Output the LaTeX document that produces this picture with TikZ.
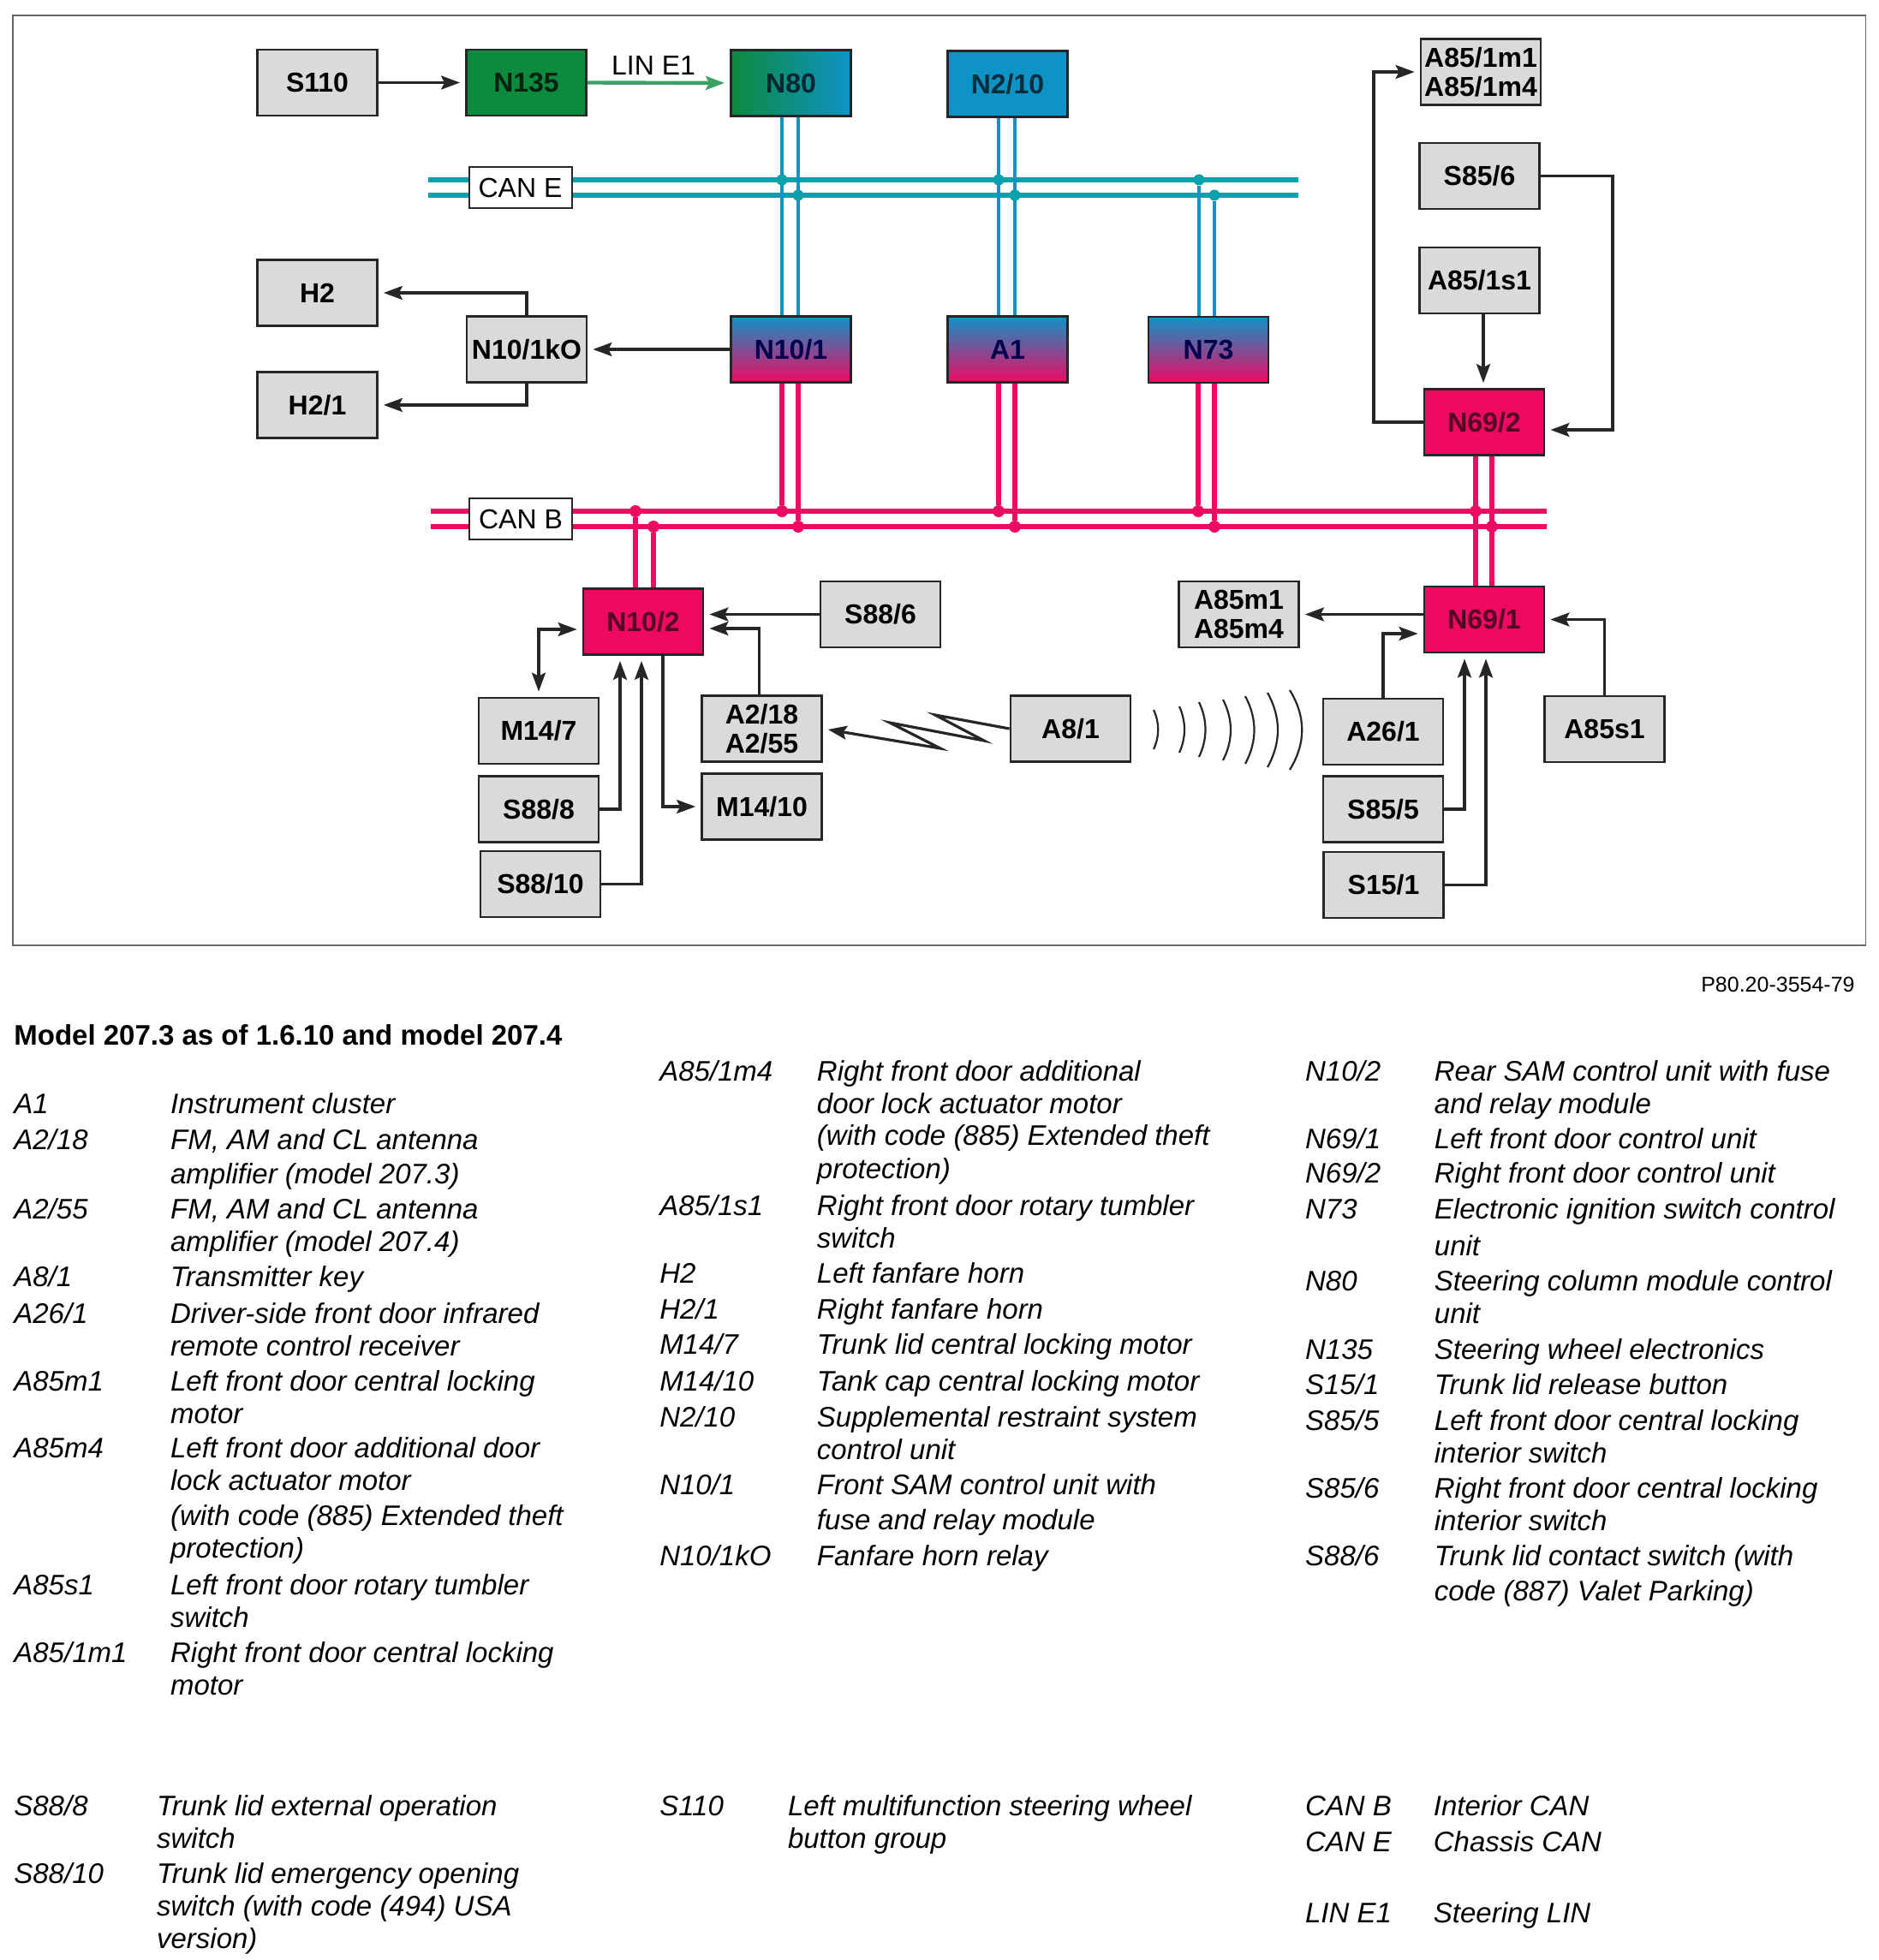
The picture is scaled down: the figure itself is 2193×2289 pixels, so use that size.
\documentclass[tikz,border=0pt]{standalone}
\usepackage{fontspec}
\usepackage{xcolor}
\usetikzlibrary{arrows.meta}
\setmainfont{Liberation Sans}
\definecolor{can-pink}{HTML}{EE0A62}
\definecolor{can-blue}{HTML}{0F93C6}
\definecolor{can-teal}{HTML}{0AA0AC}
\definecolor{lin-green}{HTML}{0C8A3E}
\definecolor{box-grey}{HTML}{DADADA}
\definecolor{line-dark}{HTML}{262626}
\tikzset{
    unit-box/.style = {draw=line-dark, line width=1.4pt, rectangle, minimum width=70pt, minimum height=38.5pt, inner sep=0pt, align=center, font=\fontsize{16}{17}\selectfont\bfseries},
    grey-box/.style = {unit-box, fill=box-grey},
    green-box/.style = {unit-box, fill=lin-green, text=black!75!lin-green},
    green-blue-box/.style = {unit-box, left color=lin-green, right color=can-blue, text=black!75!can-blue},
    blue-pink-box/.style = {unit-box, top color=can-blue, bottom color=can-pink, text=black!70!blue},
    pink-box/.style = {unit-box, fill=can-pink, text=black!65!can-pink},
    bus-label/.style = {draw=line-dark, fill=white, line width=1pt, rectangle, minimum width=60pt, minimum height=24pt, inner sep=0pt, font=\fontsize{16}{17}\selectfont},
    link/.style = {draw=line-dark, line width=1.6pt, -{Stealth[length=11pt,width=8pt,inset=2pt]}, shorten >=3pt},
    link-both/.style = {link, {Stealth[length=11pt,width=8pt,inset=2pt]}-{Stealth[length=11pt,width=8pt,inset=2pt]}, shorten <=3pt},
    lin-link/.style = {link, draw=lin-green!80!white, line width=2.2pt},
    e-bus/.style = {draw=can-teal, line width=2.6pt},
    e-tap/.style = {draw=can-blue, line width=2.4pt},
    b-bus/.style = {draw=can-pink, line width=2.6pt},
    e-dot/.style = {circle, fill=can-teal, minimum size=6.5pt, inner sep=0pt},
    b-dot/.style = {circle, fill=can-pink, minimum size=7pt, inner sep=0pt},
    wave/.style = {draw=line-dark, line width=1.1pt},
    legend-text/.style = {anchor=base west, inner sep=0pt, font=\fontsize{16.5}{18}\selectfont\itshape},
}

\begin{document}
\begin{tikzpicture}[x=0.5pt, y=-0.5pt]
\useasboundingbox (0,0) rectangle (2193,2289);
\draw[draw=black!60, line width=0.8pt] (15,18) rectangle (2178.5,1104);

% units
\node[grey-box] (s110) at (370.5,96.5) {S110};
\node[green-box] (n135) at (614.5,96.5) {N135};
\node[green-blue-box] (n80) at (923.5,97) {N80};
\node[unit-box, fill=can-blue, text=black!70!can-blue] (n2-10) at (1176.5,98) {N2/10};
\node[grey-box] (a85-1m) at (1729,84) {A85/1m1\\A85/1m4};
\node[grey-box] (s85-6) at (1727.5,205.5) {S85/6};
\node[grey-box] (a85-1s1) at (1727.5,327.5) {A85/1s1};
\node[grey-box] (h2) at (370.5,342) {H2};
\node[grey-box] (h2-1) at (370.5,473) {H2/1};
\node[grey-box] (n10-1ko) at (615,408) {N10/1kO};
\node[blue-pink-box] (n10-1) at (923.5,408) {N10/1};
\node[blue-pink-box] (a1) at (1176.5,408) {A1};
\node[blue-pink-box] (n73) at (1411,408.5) {N73};
\node[pink-box] (n69-2) at (1733,493) {N69/2};
\node[pink-box] (n10-2) at (751,726) {N10/2};
\node[grey-box] (s88-6) at (1028,717.5) {S88/6};
\node[grey-box] (a85m) at (1446.5,717.5) {A85m1\\A85m4};
\node[pink-box] (n69-1) at (1733,723.5) {N69/1};
\node[grey-box] (m14-7) at (629,853.5) {M14/7};
\node[grey-box] (a2-18) at (889.5,851) {A2/18\\A2/55};
\node[grey-box] (a8-1) at (1250,851) {A8/1};
\node[grey-box] (a26-1) at (1615,854.5) {A26/1};
\node[grey-box] (a85s1) at (1873.5,851.5) {A85s1};
\node[grey-box] (s88-8) at (629,945) {S88/8};
\node[grey-box] (m14-10) at (889.5,942) {M14/10};
\node[grey-box] (s85-5) at (1615,945) {S85/5};
\node[grey-box] (s88-10) at (631,1032.5) {S88/10};
\node[grey-box] (s15-1) at (1615.5,1033.5) {S15/1};

% CAN E
\coordinate (e-up-l) at (500,210);
\coordinate (e-up-r) at (1516,210);
\coordinate (e-lo-l) at (500,228);
\coordinate (e-lo-r) at (1516,228);
\draw[e-bus] (e-up-l) -- (e-up-r);
\draw[e-bus] (e-lo-l) -- (e-lo-r);
\draw[e-tap] ([xshift=-5.25pt]n80.south) -- ([xshift=-5.25pt]n10-1.north);
\draw[e-tap] ([xshift=4.25pt]n80.south) -- ([xshift=4.25pt]n10-1.north);
\draw[e-tap] ([xshift=-5.25pt]n2-10.south) -- ([xshift=-5.25pt]a1.north);
\draw[e-tap] ([xshift=4.25pt]n2-10.south) -- ([xshift=4.25pt]a1.north);
\node[e-dot] (e1) at (913,210) {};
\node[e-dot] (e2) at (932,228) {};
\node[e-dot] (e3) at (1166,210) {};
\node[e-dot] (e4) at (1185,228) {};
\node[e-dot] (e5) at (1400,210) {};
\node[e-dot] (e6) at (1418,228) {};
\draw[e-tap] (e5) -- (e5 |- n73.north);
\draw[e-tap] (e6) -- (e6 |- n73.north);
\node[bus-label] (can-e) at (607.5,219) {CAN E};

% CAN B
\coordinate (b-up-l) at (503,597);
\coordinate (b-up-r) at (1806,597);
\coordinate (b-lo-l) at (503,615);
\coordinate (b-lo-r) at (1806,615);
\draw[b-bus] (b-up-l) -- (b-up-r);
\draw[b-bus] (b-lo-l) -- (b-lo-r);
\node[b-dot] (b1) at (742,597) {};
\node[b-dot] (b2) at (763,615) {};
\node[b-dot] (b3) at (913,597) {};
\node[b-dot] (b4) at (932,615) {};
\node[b-dot] (b5) at (1166,597) {};
\node[b-dot] (b6) at (1185,615) {};
\node[b-dot] (b7) at (1399,597) {};
\node[b-dot] (b8) at (1418,615) {};
\node[b-dot] (b9) at (1723,597) {};
\node[b-dot] (b10) at (1742,615) {};
\draw[b-bus] (b1) -- (b1 |- n10-2.north);
\draw[b-bus] (b2) -- (b2 |- n10-2.north);
\draw[b-bus] (b3 |- n10-1.south) -- (b3);
\draw[b-bus] (b4 |- n10-1.south) -- (b4);
\draw[b-bus] (b5 |- a1.south) -- (b5);
\draw[b-bus] (b6 |- a1.south) -- (b6);
\draw[b-bus] (b7 |- n73.south) -- (b7);
\draw[b-bus] (b8 |- n73.south) -- (b8);
\draw[b-bus] (b9 |- n69-2.south) -- (b9 |- n69-1.north);
\draw[b-bus] (b10 |- n69-2.south) -- (b10 |- n69-1.north);
\node[bus-label] (can-b) at (608,606) {CAN B};

% links
\draw[link] (s110.east) -- (n135.west);
\draw[lin-link] (n135.east) -- (n80.west);
\node[inner sep=0pt, font=\fontsize{16}{17}\selectfont] (lin-e1) at (763,76) {LIN E1};
\draw[link] (n10-1.west) -- (n10-1ko.east);
\draw[link] (n10-1ko.north) |- (h2.east);
\draw[link] (n10-1ko.south) |- (h2-1.east);
\coordinate (n69-2-bend) at (1604,300);
\coordinate (s85-6-bend) at (1883,300);
\draw[link] (n69-2.west) -| (n69-2-bend) |- (a85-1m.west);
\draw[link] (s85-6.east) -| (s85-6-bend) |- ([yshift=-4.5pt]n69-2.east);
\draw[link] ([xshift=2.25pt]a85-1s1.south) -- ([xshift=-0.5pt]n69-2.north);
\draw[link] (s88-6.west) -- (s88-6.west -| n10-2.east);
\draw[link] ([xshift=-1.5pt]a2-18.north) |- ([yshift=-4pt]n10-2.east);
\draw[link-both] (m14-7.north) |- ([yshift=-4.5pt]n10-2.west);
\draw[link] (s88-8.east) -| ([xshift=-13.5pt]n10-2.south);
\draw[link] (s88-10.east) -| ([xshift=-1pt]n10-2.south);
\draw[link] ([xshift=11.5pt]n10-2.south) |- (m14-10.west);
\draw[link] ([yshift=3pt]n69-1.west) -- (a85m.east);
\draw[link] (a26-1.north) |- ([yshift=-8.25pt]n69-1.west);
\draw[link] (s85-5.east) -| ([xshift=-11.5pt]n69-1.south);
\draw[link] (s15-1.east) -| ([xshift=1pt]n69-1.south);
\draw[link] (a85s1.north) |- (n69-1.east);
\draw[link] (a8-1.west) -- (1092,835) -- (1149,865) -- (1039,844) -- (1098,874) -- (a2-18.east);

% infrared waves
\foreach \xw/\yu/\yl/\bw in {1347/829/875/7, 1377/825/879/8, 1400/820/884/10, 1428/817/888/12, 1454/813/892/14, 1480/809/896/16, 1506/806/899/19}
    \draw[wave] (\xw,\yu) .. controls ({\xw+\bw},{\yu+(\yl-\yu)/3}) and ({\xw+\bw},{\yl-(\yl-\yu)/3}) .. (\xw,\yl);

% legend
\node[anchor=base east, inner sep=0pt, font=\fontsize{12.5}{14}\selectfont] (ref-no) at (2166,1158) {P80.20-3554-79};
\begin{scope}[scale=0.9985]
\node[anchor=base west, inner sep=0pt, font=\fontsize{16.5}{18}\selectfont\bfseries] (title) at (16,1222) {Model 207.3 as of 1.6.10 and model 207.4};

\foreach \ypos/\key in {1302/A1, 1344/{A2/18}, 1426/{A2/55}, 1505/{A8/1}, 1548/{A26/1}, 1627/A85m1, 1705/A85m4, 1865/A85s1, 1944/{A85/1m1}}
    \node[legend-text] (key-a-\ypos) at (16,\ypos) {\key};
\foreach \ypos/\txt in {1302/Instrument cluster, 1344/{FM, AM and CL antenna}, 1385/amplifier (model 207.3), 1426/{FM, AM and CL antenna}, 1464/amplifier (model 207.4), 1505/Transmitter key, 1548/Driver-side front door infrared, 1586/remote control receiver, 1627/Left front door central locking, 1665/motor, 1705/Left front door additional door, 1743/lock actuator motor, 1784/(with code (885) Extended theft, 1822/protection), 1865/Left front door rotary tumbler, 1903/switch, 1944/Right front door central locking, 1982/motor}
    \node[legend-text] (txt-a-\ypos) at (199,\ypos) {\txt};

\foreach \ypos/\key in {1264/{A85/1m4}, 1422/{A85/1s1}, 1501/H2, 1543/{H2/1}, 1584/{M14/7}, 1627/{M14/10}, 1669/{N2/10}, 1748/{N10/1}, 1831/{N10/1kO}}
    \node[legend-text] (key-b-\ypos) at (771,\ypos) {\key};
\foreach \ypos/\txt in {1264/Right front door additional, 1302/door lock actuator motor, 1339/(with code (885) Extended theft, 1379/protection), 1422/Right front door rotary tumbler, 1460/switch, 1501/Left fanfare horn, 1543/Right fanfare horn, 1584/Trunk lid central locking motor, 1627/Tank cap central locking motor, 1669/Supplemental restraint system, 1707/control unit, 1748/Front SAM control unit with, 1789/fuse and relay module, 1831/Fanfare horn relay}
    \node[legend-text] (txt-b-\ypos) at (955,\ypos) {\txt};

\foreach \ypos/\key in {1264/{N10/2}, 1343/{N69/1}, 1384/{N69/2}, 1426/N73, 1510/N80, 1590/N135, 1631/{S15/1}, 1673/{S85/5}, 1752/{S85/6}, 1831/{S88/6}}
    \node[legend-text] (key-c-\ypos) at (1526,\ypos) {\key};
\foreach \ypos/\txt in {1264/Rear SAM control unit with fuse, 1302/and relay module, 1343/Left front door control unit, 1384/Right front door control unit, 1426/Electronic ignition switch control, 1469/unit, 1510/Steering column module control, 1548/unit, 1590/Steering wheel electronics, 1631/Trunk lid release button, 1673/Left front door central locking, 1711/interior switch, 1752/Right front door central locking, 1790/interior switch, 1831/Trunk lid contact switch (with, 1872/code (887) Valet Parking)}
    \node[legend-text] (txt-c-\ypos) at (1677,\ypos) {\txt};

\foreach \ypos/\key in {2124/{S88/8}, 2203/{S88/10}}
    \node[legend-text] (key-d-\ypos) at (16,\ypos) {\key};
\foreach \ypos/\txt in {2124/Trunk lid external operation, 2162/switch, 2203/Trunk lid emergency opening, 2241/switch (with code (494) USA, 2279/version)}
    \node[legend-text] (txt-d-\ypos) at (183,\ypos) {\txt};

\node[legend-text] (key-e) at (771,2124) {S110};
\node[legend-text] (txt-e1) at (921,2124) {Left multifunction steering wheel};
\node[legend-text] (txt-e2) at (921,2162) {button group};

\foreach \ypos/\key/\txt in {2124/CAN B/Interior CAN, 2166/CAN E/Chassis CAN, 2249/LIN E1/Steering LIN} {
    \node[legend-text] (key-f-\ypos) at (1526,\ypos) {\key};
    \node[legend-text] (txt-f-\ypos) at (1676,\ypos) {\txt};
}
\end{scope}
\end{tikzpicture}
\end{document}
